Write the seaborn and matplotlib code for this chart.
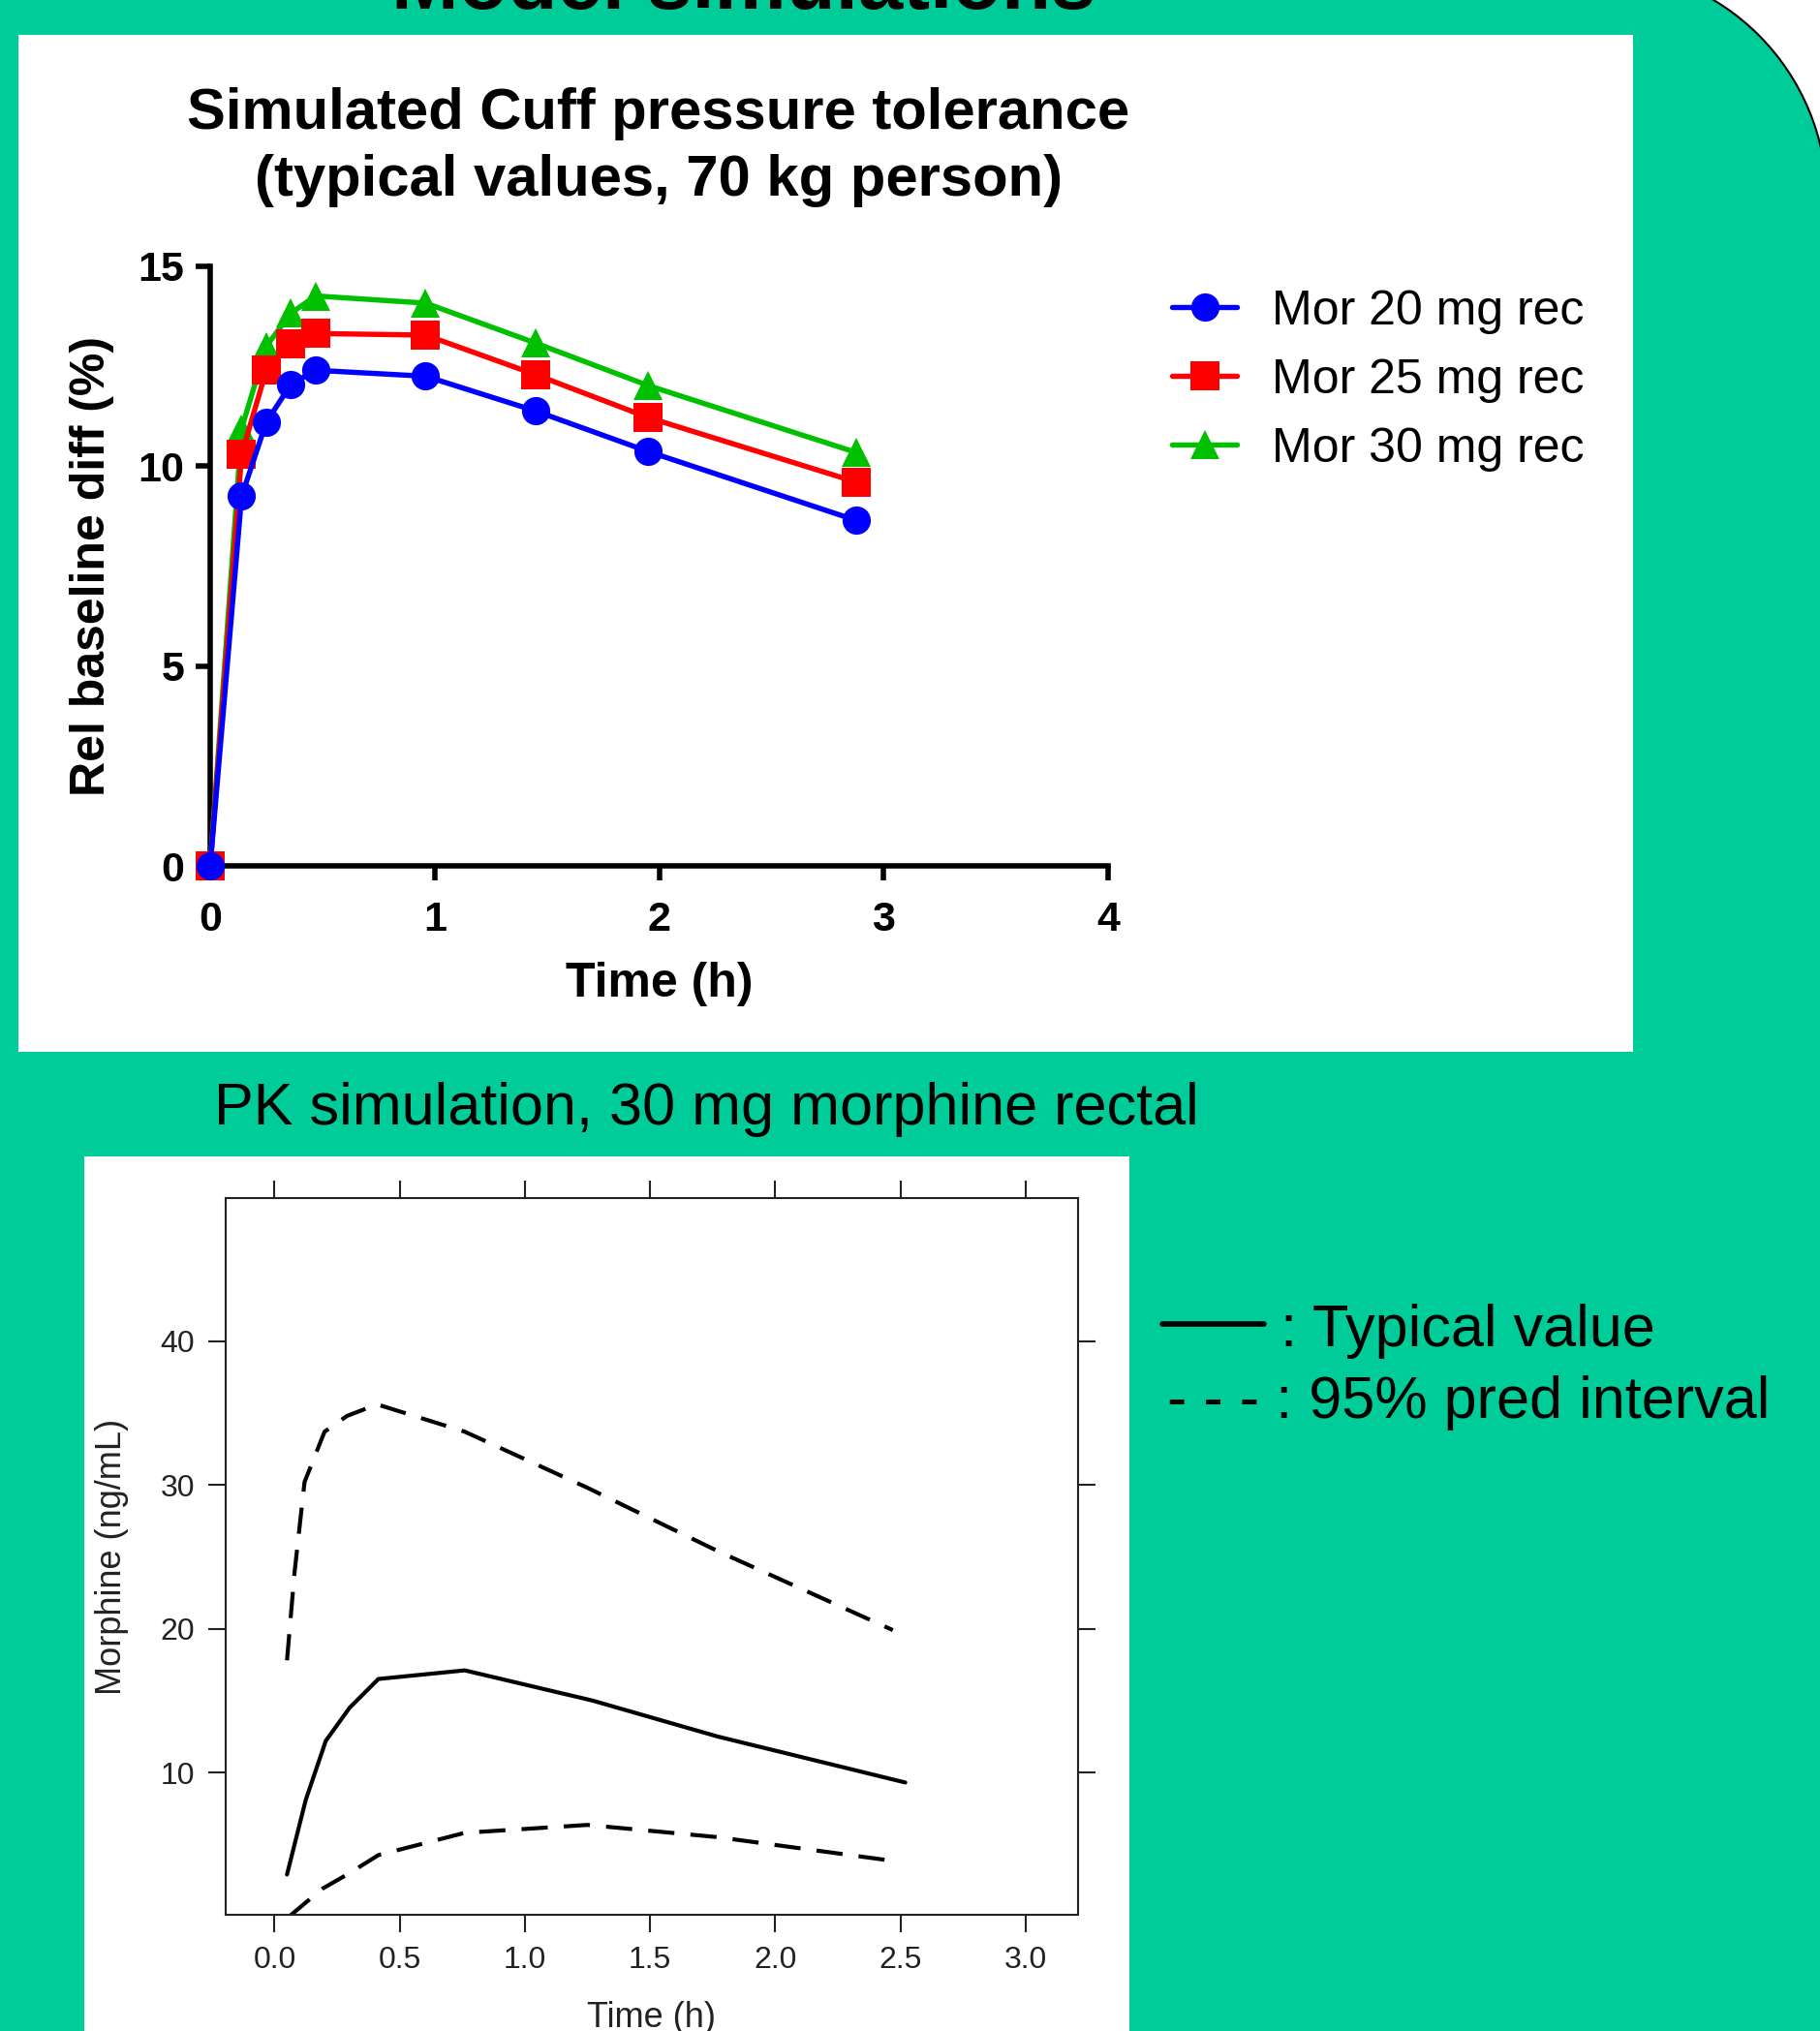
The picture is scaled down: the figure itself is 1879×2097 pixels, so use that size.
import numpy as np
import pandas as pd
import matplotlib
matplotlib.use("Agg")
import matplotlib.pyplot as plt
import seaborn as sns
from matplotlib.patches import Rectangle, Circle
from matplotlib.lines import Line2D

# --- cuff pressure tolerance (typical values, 70 kg) ---
cuff_time = [0, 0.14, 0.25, 0.36, 0.47, 0.96, 1.45, 1.95, 2.88]
cuff_20mg = [0, 9.25, 11.1, 12.05, 12.4, 12.25, 11.38, 10.37, 8.64]
cuff_25mg = [0, 10.3, 12.4, 13.05, 13.32, 13.28, 12.29, 11.22, 9.6]
cuff_30mg = [0, 10.94, 13.0, 13.83, 14.26, 14.08, 13.08, 12.02, 10.34]
dose_labels = ["Mor 20 mg rec", "Mor 25 mg rec", "Mor 30 mg rec"]
dose_colors = ["#0000FF", "#FF0000", "#00C000"]

# --- PK simulation, 30 mg morphine rectal ---
pk_time = [0.05, 0.125, 0.205, 0.30, 0.415, 0.76, 1.27, 1.77, 2.52]
pk_typical = [2.9, 8.1, 12.2, 14.5, 16.5, 17.1, 15.0, 12.5, 9.3]
pk_upper_time = [0.05, 0.08, 0.12, 0.20, 0.29, 0.41, 0.76, 1.25, 1.77, 2.47]
pk_upper = [17.8, 23.9, 30.2, 33.7, 34.8, 35.6, 33.7, 29.8, 25.4, 19.9]
pk_lower_time = [0.06, 0.19, 0.30, 0.415, 0.76, 1.25, 1.77, 2.47]
pk_lower = [0.0, 1.9, 3.0, 4.25, 5.8, 6.35, 5.5, 3.85]

BG = "#00CC99"
W, H = 1879, 2097

sns.set_theme(style="ticks")
plt.rcParams["font.family"] = ["Liberation Sans", "DejaVu Sans"]
plt.rcParams["text.color"] = "black"


def fx(px):
    return px / W


def fy(py):
    # pixel row from top -> figure fraction
    return 1 - py / H


fig = plt.figure(figsize=(W / 100, H / 100), dpi=100, facecolor=BG)

# rounded corner of the slide at the top right
corner = Rectangle((1646 / 100, (H - 206) / 100), 2.4, 2.1,
                   transform=fig.dpi_scale_trans, facecolor="white", edgecolor="none",
                   zorder=-3)
fig.patches.append(corner)
arc = Circle((1646 / 100, (H - 206) / 100), 2.40, transform=fig.dpi_scale_trans,
             facecolor=BG, edgecolor="black", linewidth=1.5, zorder=-2)
arc.set_clip_path(corner)
fig.patches.append(arc)

# white panels
fig.patches.append(Rectangle((fx(19), fy(1086)), fx(1686 - 19), (1086 - 36) / H,
                             transform=fig.transFigure, facecolor="white",
                             edgecolor="none", zorder=-1))
fig.patches.append(Rectangle((fx(87), 0), fx(1166 - 87), (H - 1194) / H,
                             transform=fig.transFigure, facecolor="white",
                             edgecolor="none", zorder=-1))

fig.text(fx(768), fy(9), "Model simulations", ha="center", va="baseline",
         fontsize=60, fontweight="bold", color="black")

# ---------------- top chart ----------------
ax1 = fig.add_axes([fx(217), fy(894), fx(1144 - 217), (894 - 275) / H])
ax1.set_facecolor("none")

df1 = pd.DataFrame({
    "time": cuff_time * 3,
    "value": cuff_20mg + cuff_25mg + cuff_30mg,
    "dose": [dose_labels[0]] * len(cuff_time) + [dose_labels[1]] * len(cuff_time)
            + [dose_labels[2]] * len(cuff_time),
})
sns.lineplot(data=df1, x="time", y="value", hue="dose", style="dose",
             hue_order=dose_labels, style_order=dose_labels,
             markers=["o", "s", "^"], dashes=False, palette=dose_colors,
             linewidth=3.9, markersize=21, markeredgewidth=0, clip_on=False,
             legend=False, ax=ax1)
for i, line in enumerate(ax1.lines[:3]):
    line.set_zorder(5 - i)

ax1.set_xlim(0, 4)
ax1.set_ylim(0, 15)
ax1.set_xticks([0, 1, 2, 3, 4])
ax1.set_yticks([0, 5, 10, 15])
sns.despine(ax=ax1)
for s in ["left", "bottom"]:
    ax1.spines[s].set_linewidth(4)
    ax1.spines[s].set_color("black")
ax1.tick_params(direction="out", length=11, width=4, labelsize=31, pad=8, colors="black")
ax1.tick_params(axis="x", pad=15)
for lab in ax1.get_xticklabels() + ax1.get_yticklabels():
    lab.set_fontweight("bold")
ax1.set_xlabel("Time (h)", fontsize=36, fontweight="bold", color="black")
ax1.set_ylabel("Rel baseline diff (%)", fontsize=36, fontweight="bold", color="black")
ax1.xaxis.set_label_coords(0.5005, -0.16)
ax1.yaxis.set_label_coords(-0.107, 0.5)

fig.text(fx(680), fy(133), "Simulated Cuff pressure tolerance", ha="center",
         va="baseline", fontsize=43, fontweight="bold", color="black")
fig.text(fx(680), fy(202), "(typical values, 70 kg person)", ha="center",
         va="baseline", fontsize=43, fontweight="bold", color="black")

leg = ax1.legend(ax1.lines[:3], dose_labels, loc="upper left",
                 bbox_to_anchor=(fx(1210), fy(299)), bbox_transform=fig.transFigure,
                 frameon=False, fontsize=36, handlelength=1.34, handletextpad=0.72,
                 labelspacing=0.5, borderpad=0, borderaxespad=0, numpoints=1)
for t in leg.get_texts():
    t.set_color("black")

# ---------------- PK chart ----------------
fig.text(fx(729), fy(1161), "PK simulation, 30 mg morphine rectal", ha="center",
         va="baseline", fontsize=44, color="black")

ax2 = fig.add_axes([fx(233), fy(1977), fx(1113 - 233), (1977 - 1237) / H])
ax2.set_facecolor("white")
sns.lineplot(x=pk_time, y=pk_typical, color="black", linewidth=3, ax=ax2)
sns.lineplot(x=pk_upper_time, y=pk_upper, color="black", linewidth=3,
             linestyle=(0, (6.5, 4)), ax=ax2)
sns.lineplot(x=pk_lower_time, y=pk_lower, color="black", linewidth=3,
             linestyle=(0, (6.5, 4)), ax=ax2)
ax2.set_xlim(-0.195, 3.21)
ax2.set_ylim(0.1, 49.95)
ax2.set_xticks([0, 0.5, 1.0, 1.5, 2.0, 2.5, 3.0])
ax2.set_xticklabels(["0.0", "0.5", "1.0", "1.5", "2.0", "2.5", "3.0"])
ax2.set_yticks([10, 20, 30, 40])
for s in ax2.spines.values():
    s.set_visible(True)
    s.set_linewidth(1.5)
    s.set_color("#222222")
ax2.tick_params(direction="out", length=13, width=1.5, labelsize=23, pad=10,
                colors="#222222", top=True, right=True, labeltop=False, labelright=False)
ax2.set_xlabel("Time (h)", fontsize=26, color="#222222")
ax2.set_ylabel("Morphine (ng/mL)", fontsize=26, color="#222222")
ax2.xaxis.set_label_coords(0.5, -0.12)
ax2.yaxis.set_label_coords(-0.114, 0.5)

# legend for the PK chart
fig.add_artist(Line2D([fx(1200), fx(1305)], [fy(1367), fy(1367)],
                      transform=fig.transFigure, color="black", linewidth=4))
fig.text(fx(1322), fy(1390), ": Typical value", ha="left", va="baseline",
         fontsize=44, color="black")
fig.text(fx(1205), fy(1464), "- - - : 95% pred interval", ha="left", va="baseline",
         fontsize=44, color="black")

fig.savefig("out.png", dpi=100, facecolor=BG)
